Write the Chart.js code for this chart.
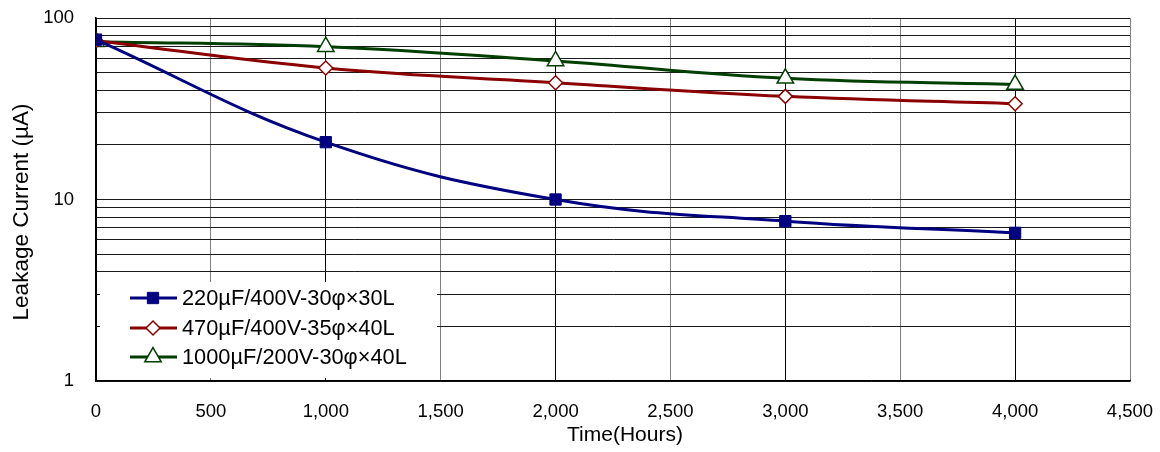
<!DOCTYPE html>
<html>
<head>
<meta charset="utf-8">
<script src="https://cdn.jsdelivr.net/npm/chart.js@4"></script>
<style>
  html, body { margin: 0; padding: 0; background: #fff; }
  #wrap { width: 1160px; height: 452px; }
</style>
</head>
<body>
<div id="wrap"><canvas id="chart" width="1160" height="452"></canvas></div>
<script>
// data
const hours = [0, 1000, 2000, 3000, 4000];
const cap220 = [76, 20.7, 10.0, 7.6, 6.55];
const cap470 = [75, 53, 44, 37, 33.7];
const cap1000 = [74, 69.5, 58, 46.5, 43];

const seriesNames = [
  "220µF/400V-30φ×30L",
  "470µF/400V-35φ×40L",
  "1000µF/200V-30φ×40L"
];
const xTicks = [0, 500, 1000, 1500, 2000, 2500, 3000, 3500, 4000, 4500];
const yTicks = [1, 2, 3, 4, 5, 6, 7, 8, 9, 10, 20, 30, 40, 50, 60, 70, 80, 90, 100];
const yLabels = [1, 10, 100];

const FONT = "'Liberation Sans', Arial, sans-serif";

const toPoints = (vals) => vals.map((v, i) => ({ x: hours[i], y: v }));

const BLUE = "#000080";
const RED = "#8b0000";
const GREEN = "#003f00";

const datasets = [
  { label: seriesNames[0], data: toPoints(cap220), borderColor: BLUE, backgroundColor: BLUE,
    pointStyle: "rect", pointRadius: 8, pointBorderWidth: 1 },
  { label: seriesNames[1], data: toPoints(cap470), borderColor: RED, backgroundColor: "#fff",
    pointStyle: "rectRot", pointRadius: 7, pointBorderWidth: 1.5 },
  { label: seriesNames[2], data: toPoints(cap1000), borderColor: GREEN, backgroundColor: "#fff",
    pointStyle: "triangle", pointRadius: 9.5, pointBorderWidth: 1.5 }
].map((d) => Object.assign(d, {
  borderWidth: 3, tension: 0.4, fill: false, pointHoverRadius: d.pointRadius
}));

// legend box + axis titles drawn on the canvas
const extras = {
  id: "extras",
  beforeDatasetsDraw(chart) {
    const ctx = chart.ctx;
    ctx.save();
    ctx.fillStyle = "#fff";
    ctx.fillRect(100, 282, 337, 96);
    const rows = [298, 328, 357];
    chart.data.datasets.forEach((ds, i) => {
      const y = rows[i];
      ctx.strokeStyle = ds.borderColor;
      ctx.lineWidth = 3;
      ctx.beginPath();
      ctx.moveTo(130, y);
      ctx.lineTo(177, y);
      ctx.stroke();
      ctx.fillStyle = ds.backgroundColor;
      ctx.lineWidth = ds.pointBorderWidth;
      Chart.helpers.drawPoint(ctx, { pointStyle: ds.pointStyle, radius: ds.pointRadius, rotation: 0, borderWidth: ds.pointBorderWidth }, 153, y);
      ctx.fillStyle = "#000";
      ctx.font = "21.8px " + FONT;
      ctx.textBaseline = "middle";
      ctx.textAlign = "left";
      ctx.fillText(ds.label, 182, y + 1);
    });
    ctx.restore();
  },
  afterDraw(chart) {
    const ctx = chart.ctx;
    ctx.save();
    ctx.fillStyle = "#000";
    ctx.textAlign = "center";
    ctx.textBaseline = "middle";
    ctx.font = "21px " + FONT;
    ctx.fillText("Time(Hours)", 625, 435);
    ctx.translate(22, 212);
    ctx.rotate(-Math.PI / 2);
    ctx.font = "22.5px " + FONT;
    ctx.fillText("Leakage Current (µA)", 0, 0);
    ctx.restore();
  }
};

function noOverflow(s) {
  s.paddingTop = 0;
  s.paddingBottom = 0;
  s.paddingLeft = 0;
  s.paddingRight = 0;
}

new Chart(document.getElementById("chart"), {
  type: "line",
  data: { datasets: datasets },
  plugins: [extras],
  options: {
    responsive: false,
    animation: false,
    layout: { padding: { left: 0, top: 18, right: 30, bottom: 0 } },
    plugins: { legend: { display: false }, tooltip: { enabled: false } },
    scales: {
      x: {
        type: "linear",
        min: 0,
        max: 4500,
        afterFit: (s) => { s.height = 71; noOverflow(s); },
        afterBuildTicks: (s) => { s.ticks = xTicks.map((v) => ({ value: v })); },
        border: { color: "#000", width: 1.5 },
        grid: {
          drawTicks: false,
          lineWidth: 1,
          color: (c) => (c.tick && c.tick.value % 1000 === 0 ? "#000" : "#7f7f7f")
        },
        ticks: {
          padding: 20,
          color: "#000",
          font: { family: FONT, size: 18.5 },
          callback: (v) => v.toLocaleString("en-US")
        }
      },
      y: {
        type: "logarithmic",
        min: 1,
        max: 100,
        afterFit: (s) => { s.width = 96; noOverflow(s); },
        afterBuildTicks: (s) => { s.ticks = yTicks.map((v) => ({ value: v })); },
        border: { color: "#000", width: 1.5 },
        grid: { drawTicks: false, lineWidth: 1, color: "#1a1a1a" },
        ticks: {
          padding: 22,
          autoSkip: false,
          color: "#000",
          font: { family: FONT, size: 18.5 },
          callback: (v) => (yLabels.includes(v) ? String(v) : "")
        }
      }
    }
  }
});
</script>
</body>
</html>
